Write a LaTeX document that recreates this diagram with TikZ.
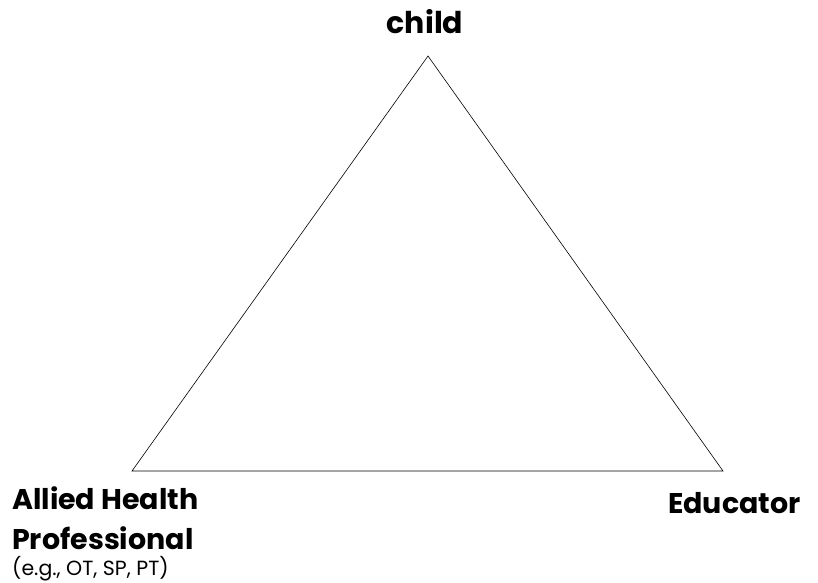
\documentclass[tikz,border=0pt]{standalone}
\usepackage{fontspec}
\setmainfont{Poppins}
\begin{document}
\begin{tikzpicture}[x=1pt,y=-1pt,
  edge/.style={draw=black,line width=0.6pt},
  bigLabel/.style={inner sep=0pt,font=\bfseries\fontsize{28.5}{34}\selectfont},
  smallLabel/.style={inner sep=0pt,font=\fontsize{20.5}{24}\selectfont}]
\useasboundingbox (0,0) rectangle (818,582);
\coordinate (top) at (428,56);
\coordinate (left) at (132,471);
\coordinate (right) at (723,471);
\draw[edge] (top) -- (left) -- (right) -- cycle;
\node[bigLabel,font=\bfseries\fontsize{30}{34}\selectfont,anchor=base] (child) at (425,33) {child};
\node[bigLabel,anchor=base west] (allied) at (12,509) {Allied Health};
\node[bigLabel,anchor=base west] (prof) at (12,549) {Professional};
\node[smallLabel,anchor=base west] (eg) at (12,575) {(e.g., OT, SP, PT)};
\node[bigLabel,anchor=base west] (edu) at (668,513) {Educator};
\end{tikzpicture}
\end{document}
